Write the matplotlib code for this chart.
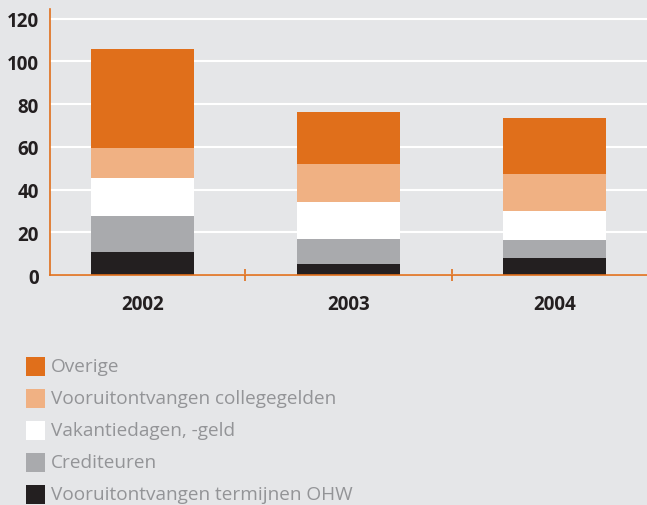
import numpy as np
import matplotlib.pyplot as plt
from matplotlib.patches import Rectangle

plt.rcParams['font.family'] = ['Open Sans', 'DejaVu Sans']

years = ['2002', '2003', '2004']
# stacked from bottom to top
series = ['Vooruitontvangen termijnen OHW', 'Crediteuren', 'Vakantiedagen, -geld',
          'Vooruitontvangen collegegelden', 'Overige']
ohw = [10.8, 5.1, 8.0]
crediteuren = [16.8, 11.8, 8.4]
vakantie = [17.8, 17.3, 13.6]
collegegeld = [14.1, 17.8, 17.3]
overige = [46.3, 24.3, 26.2]
values = [ohw, crediteuren, vakantie, collegegeld, overige]
colors = ['#231f20', '#a9aaad', '#ffffff', '#f0b183', '#e06f1b']

bg = '#e5e6e8'
orange = '#e06f1b'

fig = plt.figure(figsize=(6.47, 5.06), dpi=100)
fig.patch.set_facecolor(bg)
ax = fig.add_axes([50 / 647, 230 / 506, 597 / 647, 266 / 506])
ax.set_facecolor(bg)

x = np.arange(len(years))
bottom = np.zeros(len(years))
for vals, c in zip(values, colors):
    ax.bar(x, vals, bottom=bottom, width=0.5, color=c, zorder=3)
    bottom += np.array(vals)

ax.set_xlim(-0.449, 2.449)
ax.set_ylim(0, 124.5)
ax.set_yticks([0, 20, 40, 60, 80, 100, 120])
ax.yaxis.grid(True, color='white', linewidth=1.5, zorder=0)
ax.set_axisbelow(True)

for s in ['top', 'right']:
    ax.spines[s].set_visible(False)
for s in ['left', 'bottom']:
    ax.spines[s].set_color(orange)
    ax.spines[s].set_linewidth(1.2)
ax.spines['left'].set_zorder(4)
ax.spines['bottom'].set_zorder(4)

ax.tick_params(axis='y', length=0, pad=8, labelsize=13.5, labelcolor='#231f20')
for lbl in ax.get_yticklabels():
    lbl.set_fontweight('bold')

# category labels and separator ticks
ax.set_xticks(x)
ax.set_xticklabels(years, fontweight='bold', fontsize=13.5, color='#231f20')
ax.tick_params(axis='x', length=0, pad=14)
ax.set_xticks([0.5, 1.5], minor=True)
ax.tick_params(axis='x', which='minor', length=8, direction='inout', color=orange, width=1.2)

# legend drawn at figure level, top item first
leg_y = [367, 399, 431, 463, 495]
for i, (name, c) in enumerate(zip(series[::-1], colors[::-1])):
    yc = leg_y[i]
    fig.add_artist(Rectangle((26 / 647, (506 - yc - 9.5) / 506), 19 / 647, 19 / 506,
                             transform=fig.transFigure, facecolor=c, edgecolor='none'))
    fig.text(51 / 647, (506 - yc) / 506, name, fontsize=13.7, color='#939497', va='center')

fig.savefig('out.png', dpi=100, facecolor=bg)
